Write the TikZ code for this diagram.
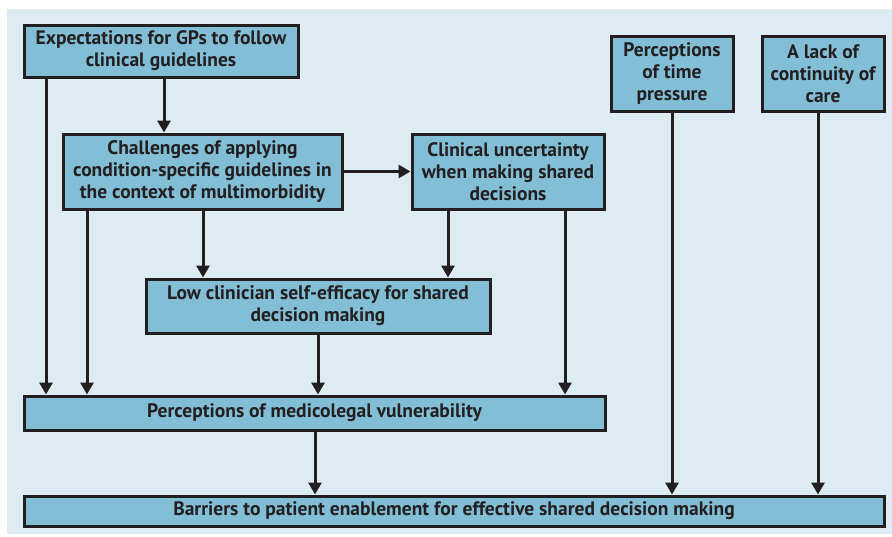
\documentclass[tikz,border=0pt]{standalone}
\usepackage{fontspec}
\setmainfont{PT Sans}
\usetikzlibrary{arrows.meta}
\definecolor{bgc}{RGB}{221,235,242}
\definecolor{boxc}{RGB}{130,190,213}
\definecolor{inkc}{RGB}{35,31,32}
\tikzset{
  box/.style={draw=inkc, line width=3pt, fill=boxc, align=center, inner sep=0pt,
    font=\bfseries\fontsize{19.5}{22}\selectfont, text=inkc},
  arr/.style={draw=inkc, line width=3pt, -{Triangle[width=13pt,length=12pt]}}
}
\begin{document}
\begin{tikzpicture}[x=1pt,y=-1pt]
\useasboundingbox (0,0) rectangle (892,536);
\fill[bgc] (7,9) rectangle (892,534);
\node[box, minimum width=274pt, minimum height=52pt] (exp) at (161,51) {Expectations for GPs to follow\\clinical guidelines};
\node[box, minimum width=279pt, minimum height=75pt] (chal) at (202.5,171.5) {Challenges of applying\\condition-specific guidelines in\\the context of multimorbidity};
\node[box, minimum width=192pt, minimum height=75pt] (clin) at (508,171.5) {Clinical uncertainty\\when making shared\\decisions};
\node[box, minimum width=122pt, minimum height=75pt] (time) at (672,73.5) {Perceptions\\of time\\pressure};
\node[box, minimum width=122pt, minimum height=75pt] (cont) at (823,73.5) {A lack of\\continuity of\\care};
\node[box, minimum width=344pt, minimum height=54pt] (low) at (318,306) {Low clinician self-efficacy for shared\\decision making};
\node[box, minimum width=581pt, minimum height=34pt] (med) at (314.5,413) {Perceptions of medicolegal vulnerability};
\node[box, minimum width=860pt, minimum height=30pt] (bar) at (454,511) {Barriers to patient enablement for effective shared decision making};
\draw[arr] (46,0 |- exp.south) -- (46,0 |- med.north);
\draw[arr] (164,0 |- exp.south) -- (164,0 |- chal.north);
\draw[arr] (87,0 |- chal.south) -- (87,0 |- med.north);
\draw[arr] (203,0 |- chal.south) -- (203,0 |- low.north);
\draw[arr] (chal.east) -- (clin.west);
\draw[arr] (448,0 |- clin.south) -- (448,0 |- low.north);
\draw[arr] (565,0 |- clin.south) -- (565,0 |- med.north);
\draw[arr] (318,0 |- low.south) -- (318,0 |- med.north);
\draw[arr] (315,0 |- med.south) -- (315,0 |- bar.north);
\draw[arr] (time.south) -- (time.south |- bar.north);
\draw[arr] (818,0 |- cont.south) -- (818,0 |- bar.north);
\end{tikzpicture}
\end{document}
